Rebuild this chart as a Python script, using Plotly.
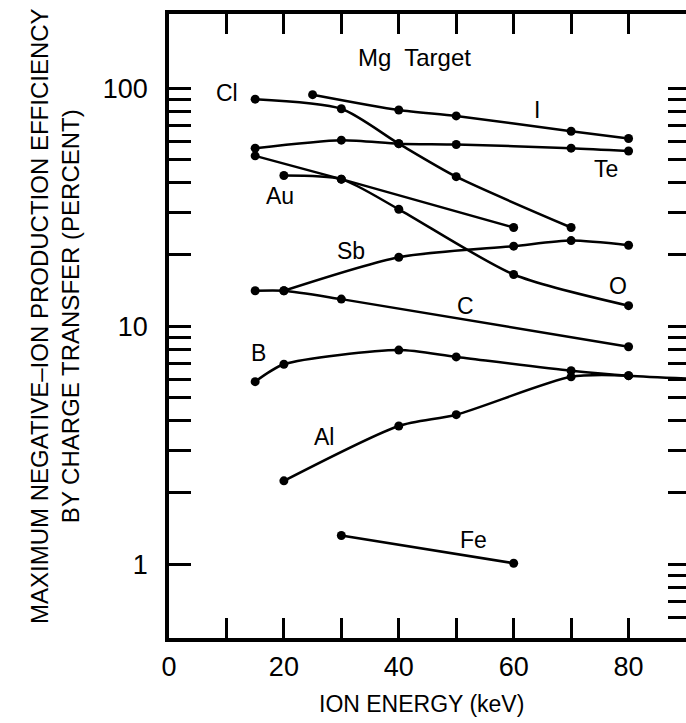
import math
import plotly.graph_objects as go

# ---- data ----
cl_x = [15, 30, 40, 50, 70]
cl_y = [90, 82, 58.5, 42.5, 26]
i_x = [25, 40, 50, 70, 80]
i_y = [94, 81, 76.5, 66, 61.5]
te_x = [15, 30, 40, 50, 70, 80]
te_y = [56, 60.5, 58.5, 58, 56, 54.5]
au_x = [15, 30, 60]
au_y = [52, 41.5, 26]
o_x = [20, 30, 40, 60, 80]
o_y = [43, 41.5, 31, 16.5, 12.2]
sb_x = [20, 40, 60, 70, 80]
sb_y = [14.1, 19.5, 21.7, 22.9, 21.9]
c_x = [15, 20, 30, 80]
c_y = [14.1, 14.1, 13.0, 8.2]
b_x = [15, 20, 40, 50, 70, 80, 96]
b_y = [5.85, 6.92, 7.94, 7.43, 6.5, 6.2, 5.95]
al_x = [20, 40, 50, 70, 80]
al_y = [2.24, 3.81, 4.25, 6.13, 6.2]
fe_x = [30, 60]
fe_y = [1.32, 1.01]

series = [(cl_x, cl_y), (i_x, i_y), (te_x, te_y), (au_x, au_y), (o_x, o_y),
          (sb_x, sb_y), (c_x, c_y), (b_x, b_y), (al_x, al_y), (fe_x, fe_y)]

labels = ["Mg  Target", "Cl", "I", "Te", "Au", "Sb", "O", "C", "B", "Al", "Fe"]
label_x = [42.7, 10.1, 64.0, 76.1, 19.3, 31.7, 78.2, 51.6, 15.5, 26.9, 53.0]
label_y = [135, 95.8, 80.9, 45.9, 35.4, 20.8, 14.7, 12.2, 7.7, 3.41, 1.27]
label_size = [24, 23, 23, 23, 23, 23, 23, 23, 23, 23, 23]

x_tickvals = [0, 10, 20, 30, 40, 50, 60, 70, 80]
x_ticktext = ["0", "", "20", "", "40", "", "60", "", "80"]
y_left_tickvals = [1, 2, 3, 4, 5, 6, 7, 8, 9, 10, 20, 30, 40, 50, 60, 70, 80, 90, 100]
y_left_ticktext = ["1"] + [""] * 8 + ["10"] + [""] * 8 + ["100"]
y_right_tickvals = [0.6, 0.7, 0.8, 0.9] + y_left_tickvals

x_title = "ION ENERGY (keV)"
y_title = "MAXIMUM NEGATIVE–ION PRODUCTION EFFICIENCY<br>BY CHARGE TRANSFER (PERCENT)"

FONT = "Liberation Sans, Arial, sans-serif"
YR = [-0.31, 2.312]

fig = go.Figure()
for sx, sy in series:
    fig.add_trace(go.Scatter(
        x=sx, y=sy, mode="lines+markers",
        line=dict(color="black", width=2.5, shape="spline", smoothing=0.7),
        marker=dict(color="black", size=9),
        showlegend=False, cliponaxis=True, hoverinfo="skip"))

# dummy trace so the right-hand tick axis is drawn
fig.add_trace(go.Scatter(x=[None], y=[None], yaxis="y2", showlegend=False, hoverinfo="skip"))

for t, lx, ly, ls in zip(labels, label_x, label_y, label_size):
    fig.add_annotation(x=lx, y=math.log10(ly), text=t, showarrow=False,
                       font=dict(family=FONT, size=ls, color="black"),
                       xanchor="center", yanchor="middle")

fig.add_annotation(xref="paper", yref="paper", x=(421 - 169) / 517, y=(638 - 704) / 624,
                   text=x_title, showarrow=False, xanchor="center", yanchor="middle",
                   font=dict(family=FONT, size=23, color="black"))
fig.add_annotation(xref="paper", yref="paper", x=(55 - 169) / 517, y=(638 - 316) / 624,
                   text=y_title, showarrow=False, xanchor="center", yanchor="middle",
                   textangle=-90,
                   font=dict(family=FONT, size=24, color="black"))

fig.update_layout(
    width=686, height=723,
    margin=dict(l=169, r=0, t=14, b=85),
    paper_bgcolor="white", plot_bgcolor="white",
    xaxis=dict(range=[0, 90], tickvals=x_tickvals, ticktext=x_ticktext,
               ticks="inside", ticklen=20, tickwidth=2.5, tickcolor="black",
               showline=True, linecolor="black", linewidth=3.5, mirror="ticks",
               showgrid=False, zeroline=False, ticklabelstandoff=2,
               tickfont=dict(family=FONT, size=27, color="black")),
    yaxis=dict(type="log", range=YR, tickvals=y_left_tickvals, ticktext=y_left_ticktext,
               ticks="inside", ticklen=22, tickwidth=2.5, tickcolor="black",
               showline=True, linecolor="black", linewidth=3.5, mirror=False,
               showgrid=False, zeroline=False, ticklabelstandoff=12,
               tickfont=dict(family=FONT, size=27, color="black")),
    yaxis2=dict(type="log", range=YR, overlaying="y", side="right",
                tickvals=y_right_tickvals, ticks="inside", ticklen=18, tickwidth=2.5,
                tickcolor="black", showticklabels=False, showline=False,
                showgrid=False, zeroline=False),
)

fig.write_html("out.html")
